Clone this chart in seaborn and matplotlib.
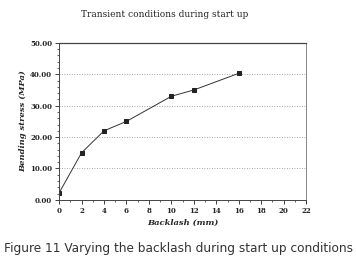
import numpy as np
import pandas as pd
import matplotlib
matplotlib.use("Agg")
import matplotlib.pyplot as plt
from matplotlib.ticker import MultipleLocator, FormatStrFormatter
import seaborn as sns

# data
backlash = [0, 2, 4, 6, 10, 12, 16]
stress = [2.2, 15.0, 22.0, 25.0, 33.0, 35.0, 40.3]

title = "Transient conditions during start up"
caption = "Figure 11 Varying the backlash during start up conditions"

sns.set_style("white")
plt.rcParams['font.family'] = ['DejaVu Serif']

df = pd.DataFrame({'backlash': backlash, 'stress': stress})

fig = plt.figure(figsize=(3.56, 2.63), dpi=100)
ax = fig.add_axes([0.166, 0.240, 0.694, 0.597])

sns.lineplot(data=df, x='backlash', y='stress', ax=ax, color='#333333',
             linewidth=0.7, marker='s', markersize=3, markerfacecolor='#222222',
             markeredgecolor='#222222')

ax.set_xlim(0, 22)
ax.set_ylim(0, 50)
ax.xaxis.set_major_locator(MultipleLocator(2))
ax.xaxis.set_minor_locator(MultipleLocator(1))
ax.yaxis.set_major_locator(MultipleLocator(10))
ax.yaxis.set_minor_locator(MultipleLocator(2))
ax.yaxis.set_major_formatter(FormatStrFormatter('%.2f'))

ax.tick_params(axis='both', which='major', labelsize=5, length=3, width=0.6,
               direction='out', pad=2, colors='#222222')
ax.tick_params(axis='both', which='minor', length=1.5, width=0.5, direction='out')
ax.tick_params(axis='both', which='both', bottom=True, left=True)
for lbl in ax.get_xticklabels() + ax.get_yticklabels():
    lbl.set_fontweight('bold')

for y in [10, 20, 30, 40]:
    ax.axhline(y, color='#888888', linestyle=(0, (1, 2)), linewidth=0.6, zorder=0)

for s in ax.spines.values():
    s.set_visible(True)
    s.set_color('#444444')
    s.set_linewidth(0.7)
ax.spines['right'].set_color('#888888')
ax.spines['top'].set_linewidth(0.9)

ax.set_xlabel("Backlash (mm)", fontsize=6, style='italic', fontweight='bold',
              labelpad=3)
ax.set_ylabel("Bending stress (MPa)", fontsize=6, style='italic', fontweight='bold',
              labelpad=2)

fig.text(0.463, 0.943, title, ha='center', va='center', fontsize=6.5,
         color='#222222')
fig.text(0.5, 0.057, caption, ha='center', va='center', fontsize=8.7,
         family='DejaVu Sans', color='#333333')

plt.savefig('out.png', dpi=100)
